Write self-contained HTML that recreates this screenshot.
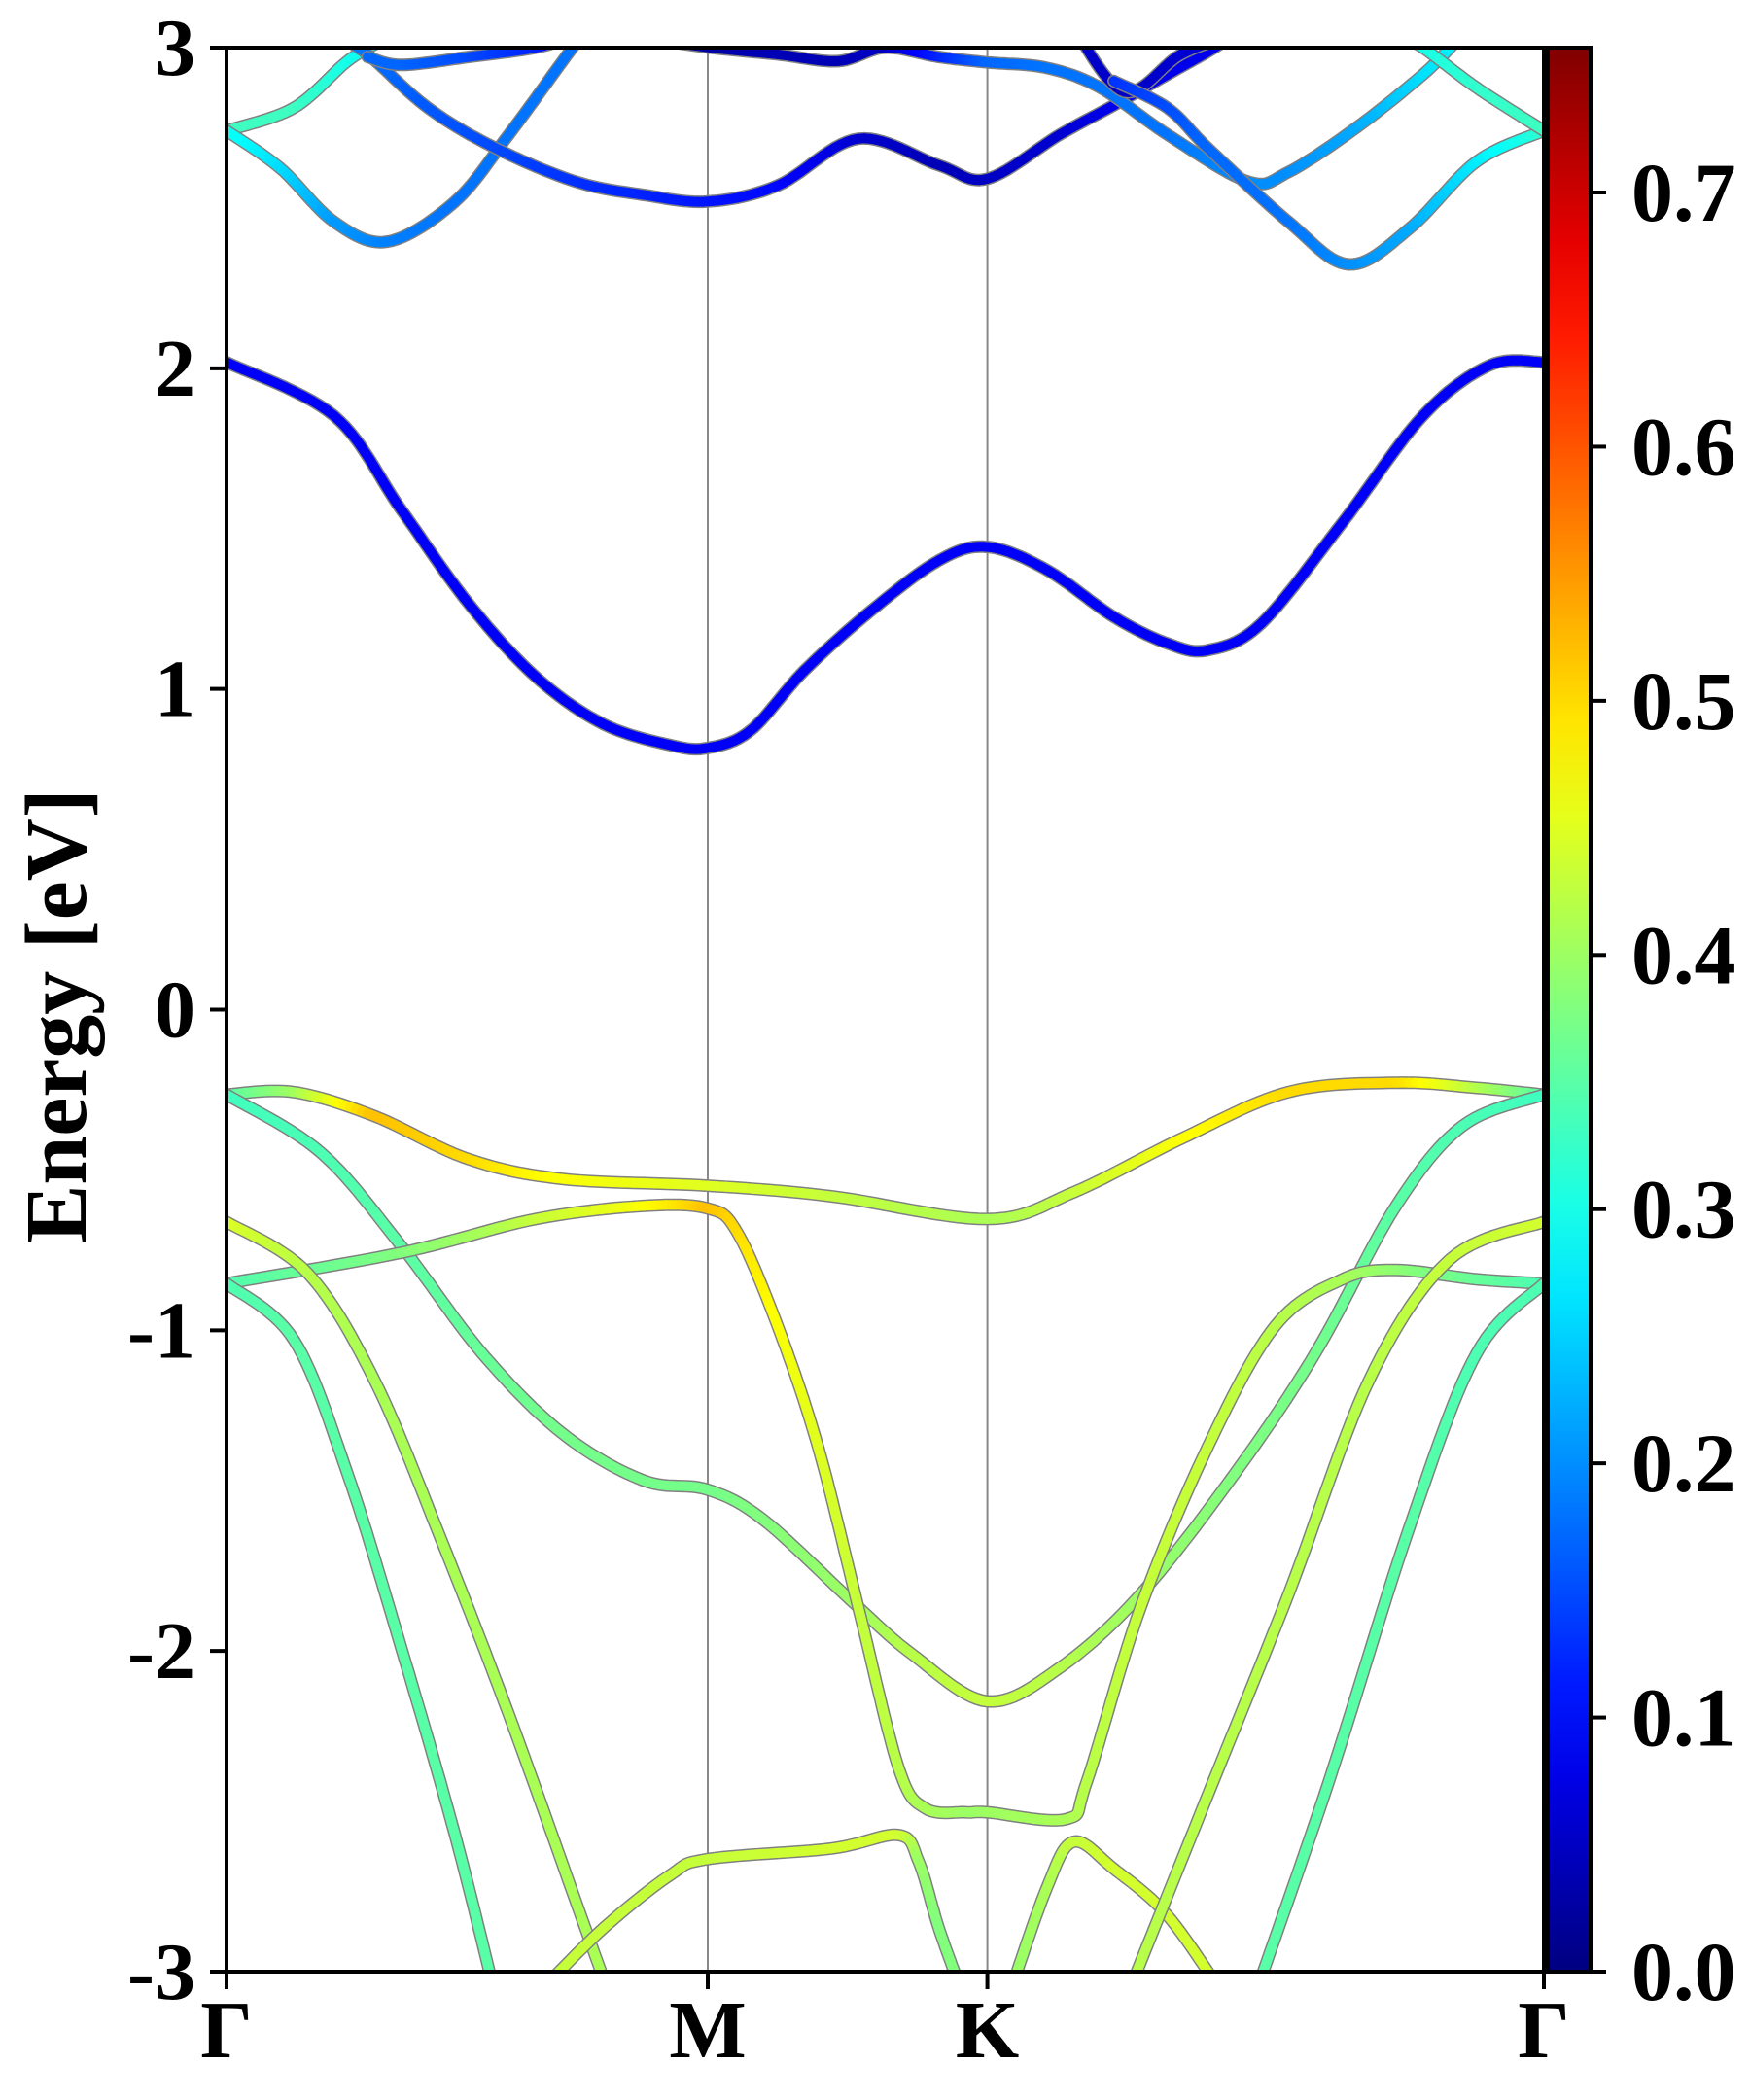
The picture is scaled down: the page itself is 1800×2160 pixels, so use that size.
<!DOCTYPE html>
<html><head><meta charset="utf-8">
<style>
html,body{margin:0;padding:0;background:#fff;}
svg{display:block;}
text{font-family:"Liberation Serif","Times New Roman",serif;font-weight:bold;}
</style></head>
<body>
<svg id="chart" width="1800" height="2160" viewBox="0 0 1800 2160" xmlns="http://www.w3.org/2000/svg">
<defs>
<linearGradient id="jet" x1="0" y1="1" x2="0" y2="0"></linearGradient>
<clipPath id="plotclip"><rect x="233" y="49" width="1355" height="1979"/></clipPath>
</defs>
<g id="bands" clip-path="url(#plotclip)"></g>
<g id="axes"></g>
</svg>
<script>
// ---- data ----
const kTicks = [0, 3.58, 5.66, 9.8];
const kLabels = ["Γ", "M", "K", "Γ"];
const yTicks = [-3, -2, -1, 0, 1, 2, 3];
const cbTicks = [0.0, 0.1, 0.2, 0.3, 0.4, 0.5, 0.6, 0.7];
const vMax = 0.757;

const c1K = [0,0.8,1.3,1.8,2.3,2.8,3.3,3.58,3.9,4.3,4.8,5.3,5.66,6.1,6.6,7.0,7.3,7.7,8.3,8.9,9.4,9.8];
const c1E = [2.019,1.852,1.559,1.267,1.038,0.891,0.825,0.816,0.871,1.058,1.246,1.401,1.443,1.372,1.225,1.142,1.121,1.205,1.518,1.852,2.010,2.019];
const c1V = [0.09,0.09,0.09,0.09,0.09,0.09,0.09,0.09,0.09,0.09,0.09,0.09,0.09,0.09,0.09,0.09,0.09,0.09,0.09,0.09,0.09,0.09];

const aK = [0,0.5,0.9,1.15];
const aE = [2.741,2.812,2.958,3.021];
const aV = [0.33,0.33,0.3,0.28];

const bK = [0,0.4,0.8,1.2,1.7,2.1,2.5,2.65];
const bE = [2.741,2.624,2.457,2.395,2.520,2.729,2.958,3.042];
const bV = [0.3,0.26,0.21,0.19,0.18,0.18,0.18,0.18];

const dK = [0.8,1.05,1.5,2.0,2.6,3.1,3.58,4.1,4.7,5.3,5.66,6.2,6.6,7.0,7.3,7.5];
const dE = [3.042,2.979,2.812,2.687,2.582,2.541,2.520,2.570,2.716,2.633,2.591,2.729,2.820,2.916,2.987,3.042];
const dV = [0.2,0.18,0.16,0.15,0.13,0.12,0.11,0.1,0.06,0.04,0.05,0.06,0.08,0.08,0.08,0.08];

const eK = [1.05,1.3,1.8,2.3,2.7,3.1,3.6,4.1,4.55,4.9,5.3,5.66,6.1,6.5,7.0,7.6,7.9,8.4,8.9,9.15];
const eE = [2.971,2.946,2.971,3.0,3.042,3.029,3.0,2.979,2.958,3.0,2.971,2.954,2.937,2.875,2.729,2.582,2.612,2.749,2.916,3.021];
const eV = [0.17,0.17,0.15,0.12,0.05,0.03,0.03,0.04,0.04,0.05,0.12,0.17,0.18,0.18,0.18,0.2,0.2,0.22,0.26,0.28];

const fK = [6.3,6.68,7.1,7.5];
const fE = [3.063,2.862,2.979,3.042];
const fV = [0.06,0.05,0.06,0.06];

const gK = [6.6,7.0,7.3,7.9,8.35,8.8,9.3,9.8];
const gE = [2.896,2.812,2.687,2.457,2.324,2.436,2.645,2.741];
const gV = [0.13,0.15,0.17,0.18,0.2,0.22,0.27,0.32];

const hK = [8.7,8.9,9.3,9.8];
const hE = [3.042,3.0,2.875,2.741];
const hV = [0.3,0.3,0.32,0.33];

const v1K = [0,0.5,1.1,1.8,2.5,3.58,4.5,5.66,6.3,7.1,7.9,8.7,9.3,9.8];
const v1E = [-0.265,-0.257,-0.332,-0.466,-0.528,-0.549,-0.582,-0.653,-0.570,-0.403,-0.257,-0.228,-0.244,-0.265];
const v1V = [0.34,0.4,0.52,0.5,0.47,0.45,0.43,0.41,0.43,0.47,0.5,0.5,0.42,0.34];

const v2K = [0,0.7,1.3,1.9,2.5,3.1,3.58,4.0,4.65,5.1,5.66,6.2,6.8,7.5,8.1,8.7,9.2,9.8];
const v2E = [-0.265,-0.445,-0.737,-1.071,-1.322,-1.468,-1.497,-1.593,-1.844,-2.010,-2.157,-2.052,-1.823,-1.447,-1.071,-0.612,-0.361,-0.265];
const v2V = [0.33,0.34,0.35,0.36,0.37,0.37,0.37,0.38,0.4,0.42,0.43,0.42,0.4,0.38,0.37,0.35,0.34,0.33];

const v3K = [0,1.3,2.3,3.1,3.58,3.8,4.1,4.4,4.7,5.0,5.2,5.5,5.66,6.25,6.4,6.8,7.3,7.8,8.3,8.7,9.3,9.8];
const v3E = [-0.854,-0.758,-0.653,-0.612,-0.620,-0.695,-0.987,-1.363,-1.864,-2.365,-2.491,-2.503,-2.503,-2.524,-2.407,-1.864,-1.363,-0.987,-0.841,-0.812,-0.841,-0.854];
const v3V = [0.34,0.38,0.43,0.47,0.52,0.5,0.47,0.45,0.43,0.42,0.41,0.4,0.4,0.41,0.42,0.43,0.43,0.42,0.41,0.39,0.36,0.34];

const v4K = [0,0.6,1.1,1.6,2.1,2.6,2.85];
const v4E = [-0.662,-0.820,-1.155,-1.656,-2.198,-2.783,-3.075];
const v4V = [0.45,0.42,0.41,0.41,0.41,0.41,0.41];

const v5K = [0,0.5,0.9,1.3,1.7,2.0];
const v5E = [-0.854,-1.029,-1.447,-1.990,-2.574,-3.075];
const v5V = [0.34,0.35,0.35,0.35,0.35,0.35];

const v6K = [2.3,2.8,3.3,3.58,4.5,5.0,5.15,5.3,5.48];
const v6E = [-3.075,-2.866,-2.699,-2.649,-2.616,-2.574,-2.658,-2.866,-3.075];
const v6V = [0.43,0.43,0.43,0.43,0.44,0.44,0.4,0.38,0.38];

const v7K = [5.82,6.1,6.3,6.6,7.0,7.42];
const v7E = [-3.075,-2.741,-2.595,-2.679,-2.825,-3.075];
const v7V = [0.39,0.41,0.43,0.44,0.44,0.44];

const v8K = [6.7,7.3,7.9,8.5,9.1,9.8];
const v8E = [-3.075,-2.449,-1.823,-1.155,-0.779,-0.662];
const v8V = [0.42,0.42,0.42,0.42,0.43,0.44];

const v9K = [7.65,8.2,8.8,9.3,9.8];
const v9E = [-3.075,-2.407,-1.614,-1.071,-0.854];
const v9V = [0.35,0.35,0.35,0.34,0.34];

const bandList = [
 ["band-c1",c1K,c1E,c1V],["band-a",aK,aE,aV],["band-b",bK,bE,bV],["band-d",dK,dE,dV],
 ["band-e",eK,eE,eV],["band-f",fK,fE,fV],["band-g",gK,gE,gV],["band-h",hK,hE,hV],
 ["band-v1",v1K,v1E,v1V],["band-v2",v2K,v2E,v2V],["band-v3",v3K,v3E,v3V],["band-v4",v4K,v4E,v4V],
 ["band-v5",v5K,v5E,v5V],["band-v6",v6K,v6E,v6V],["band-v7",v7K,v7E,v7V],["band-v8",v8K,v8E,v8V],
 ["band-v9",v9K,v9E,v9V]
];

// ---- layout ----
const X0=233, X1=1588, Y0=49, Y1=2028;
const kMax = 9.8, eMin=-3, eMax=3;
const CBX=1592, CBW=44;
function xs(k){return X0 + k/kMax*(X1-X0);}
function ys(e){return Y0 + (eMax-e)/(eMax-eMin)*(Y1-Y0);}
function cbY(v){return Y1 - v/vMax*(Y1-Y0);}
function jet(v){
  let t=Math.max(0,Math.min(1,v/vMax));
  const f=(x)=>Math.max(0,Math.min(1,x));
  const r=f(1.5-Math.abs(4*t-3)), g=f(1.5-Math.abs(4*t-2)), b=f(1.5-Math.abs(4*t-1));
  return `rgb(${Math.round(r*255)},${Math.round(g*255)},${Math.round(b*255)})`;
}
const NS="http://www.w3.org/2000/svg";
function mk(tag,attrs,parent){const e=document.createElementNS(NS,tag);for(const a in attrs)e.setAttribute(a,attrs[a]);parent.appendChild(e);return e;}

function densify(K,E,V){
  const P=K.map((k,i)=>[xs(k),ys(E[i]),V[i]]);
  const out=[];
  for(let i=0;i<P.length-1;i++){
    const p0=P[Math.max(0,i-1)],p1=P[i],p2=P[i+1],p3=P[Math.min(P.length-1,i+2)];
    const n=14;
    for(let s=0;s<n;s++){
      const t=s/n,t2=t*t,t3=t2*t;
      const cr=(a,b,c,d)=>0.5*((2*b)+(-a+c)*t+(2*a-5*b+4*c-d)*t2+(-a+3*b-3*c+d)*t3);
      out.push([cr(p0[0],p1[0],p2[0],p3[0]),cr(p0[1],p1[1],p2[1],p3[1]),p1[2]+(p2[2]-p1[2])*t]);
    }
  }
  out.push(P[P.length-1]);
  return out;
}

const bandsG=document.getElementById('bands');
[kTicks[1],kTicks[2]].forEach(k=>{
  const l=mk('line',{x1:xs(k),x2:xs(k),y1:Y0,y2:Y1,stroke:'#888','stroke-width':2},bandsG);
  
  
});
bandList.forEach(([name,K,E,V])=>{
  const g=mk('g',{},bandsG);
  
  
  const pts=densify(K,E,V);
  mk('path',{d:'M'+pts.map(p=>p[0].toFixed(1)+','+p[1].toFixed(1)).join('L'),fill:'none',stroke:'#808080','stroke-width':13,'stroke-linejoin':'round','stroke-linecap':'round'},g);
  for(let i=0;i<pts.length-1;i++){
    mk('line',{x1:pts[i][0].toFixed(1),y1:pts[i][1].toFixed(1),x2:pts[i+1][0].toFixed(1),y2:pts[i+1][1].toFixed(1),stroke:jet((pts[i][2]+pts[i+1][2])/2),'stroke-width':10,'stroke-linecap':'round'},g);
  }
});

const ax=document.getElementById('axes');
const frame=mk('rect',{x:X0,y:Y0,width:X1-X0,height:Y1-Y0,fill:'none',stroke:'#000','stroke-width':4},ax);


yTicks.forEach(v=>{
  const y=ys(v);
  const t=mk('line',{x1:X0-17,x2:X0,y1:y,y2:y,stroke:'#000','stroke-width':4},ax);
  
  
  const lb=mk('text',{x:X0-32,y:y+28,'text-anchor':'end','font-size':84},ax);
  lb.textContent=String(v);
  
  
});
kTicks.forEach((k,i)=>{
  const x=xs(k);
  const t=mk('line',{x1:x,x2:x,y1:Y1,y2:Y1+18,stroke:'#000','stroke-width':4},ax);
  
  
  const lb=mk('text',{x:x,y:Y1+88,'text-anchor':'middle','font-size':84},ax);
  lb.textContent=kLabels[i];
  
  
});
const yt=mk('text',{x:0,y:0,'text-anchor':'middle','font-size':90,transform:`translate(88,1045) rotate(-90)`},ax);
yt.textContent='Energy [eV]';



const grad=document.getElementById('jet');
for(let i=0;i<=20;i++){
  mk('stop',{offset:(i/20),'stop-color':jet(i/20*vMax)},grad);
}
const cb=mk('rect',{x:CBX,y:Y0,width:CBW,height:Y1-Y0,fill:'url(#jet)',stroke:'#000','stroke-width':4},ax);


cbTicks.forEach(v=>{
  const y=cbY(v);
  const t=mk('line',{x1:CBX+CBW,x2:CBX+CBW+16,y1:y,y2:y,stroke:'#000','stroke-width':4},ax);
  
  
  const lb=mk('text',{x:CBX+CBW+42,y:y+29,'text-anchor':'start','font-size':86},ax);
  lb.textContent=v.toFixed(1);
  
  
});
</script>
</body></html>
